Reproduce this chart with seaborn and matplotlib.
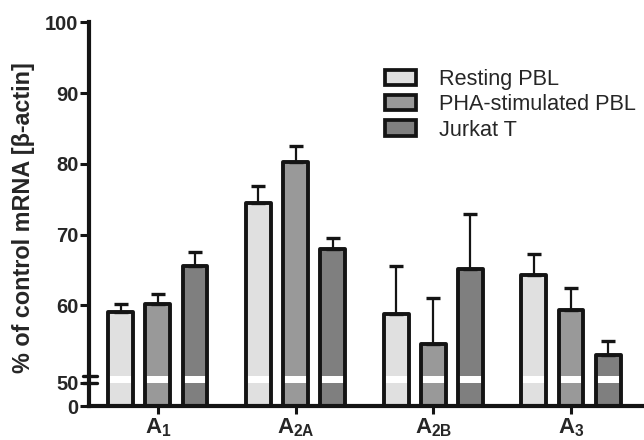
import numpy as np
import pandas as pd
import matplotlib
matplotlib.use("Agg")
import matplotlib.pyplot as plt
import matplotlib.transforms as mtransforms
from matplotlib.patches import Patch, Rectangle
import seaborn as sns

# ---------------- data ----------------
receptors = ["A1", "A2A", "A2B", "A3"]
tick_labels = ["A$_1$", "A$_{2A}$", "A$_{2B}$", "A$_3$"]
cell_types = ["Resting PBL", "PHA-stimulated PBL", "Jurkat T"]
resting = [59.05, 74.4, 58.8, 64.3]
resting_sem = [1.1, 2.4, 6.8, 2.9]
pha = [60.2, 80.2, 54.6, 59.4]
pha_sem = [1.4, 2.35, 6.4, 3.1]
jurkat = [65.6, 68.0, 65.2, 53.0]
jurkat_sem = [1.9, 1.45, 7.7, 2.0]
yticks = [0, 50, 60, 70, 80, 90, 100]
ylabel = "% of control mRNA [β-actin]"
colors = ["#e0e0e0", "#999999", "#7f7f7f"]

values = [resting, pha, jurkat]
sems = [resting_sem, pha_sem, jurkat_sem]
df = pd.DataFrame({
    "receptor": [r for _ in cell_types for r in receptors],
    "cell": [c for c in cell_types for _ in receptors],
    "value": [v for vals in values for v in vals],
})

# ---------------- style ----------------
sns.set_style("white")
plt.rcParams["font.family"] = ["Liberation Sans", "DejaVu Sans"]
plt.rcParams["mathtext.fontset"] = "custom"
plt.rcParams["mathtext.rm"] = "Liberation Sans:bold"
plt.rcParams["mathtext.it"] = "Liberation Sans:bold"
plt.rcParams["mathtext.bf"] = "Liberation Sans:bold"

EDGE = "#141414"
W, H = 644, 440
fig = plt.figure(figsize=(W / 100, H / 100), dpi=100)
ax = fig.add_axes([89 / W, 1 - 406 / H, 555 / W, 383.7 / H])

# broken y scale: 0-50 compressed, small gap, 50-100 expanded
LOW, GAP, HI, EPS = 23 / 50, 7.0, 7.07, 0.01


def fwd(y):
    y = np.asarray(y, dtype=float)
    return np.where(y <= 50, y * LOW,
                    np.where(y <= 50 + EPS, 23 + (y - 50) / EPS * GAP,
                             30 + (y - 50 - EPS) * HI))


def inv(s):
    s = np.asarray(s, dtype=float)
    return np.where(s <= 23, s / LOW,
                    np.where(s <= 30, 50 + (s - 23) / GAP * EPS,
                             50 + EPS + (s - 30) / HI))


sns.barplot(data=df, x="receptor", y="value", hue="cell", order=receptors,
            hue_order=cell_types, palette=colors, width=0.81, gap=0.33,
            errorbar=None, linewidth=0, ax=ax, legend=False, zorder=1)

ax.set_yscale("function", functions=(fwd, inv))
ax.set_ylim(0, 100)
ax.set_xlim(-0.5, 3.53)

bars = list(ax.patches)
# white break band across the bar fills
ax.axhspan(50, 50 + EPS, facecolor="white", edgecolor="none", zorder=1.5)

# outlines and one-sided error bars
for k, p in enumerate(bars):
    i, j = divmod(k, len(receptors))
    ax.add_patch(Rectangle((p.get_x(), p.get_y()), p.get_width(), p.get_height(),
                           fill=False, edgecolor=EDGE, linewidth=2.8,
                           joinstyle="round", zorder=3))
    xc = p.get_x() + p.get_width() / 2
    ax.errorbar([xc], [p.get_height()], yerr=[[0], [sems[i][j]]], fmt="none",
                ecolor=EDGE, elinewidth=1.6, capsize=5, capthick=2.4, zorder=2.8)

# axes styling
for side in ["top", "right"]:
    ax.spines[side].set_visible(False)
for side in ["left", "bottom"]:
    ax.spines[side].set_linewidth(3.0)
    ax.spines[side].set_color(EDGE)

ax.set_yticks(yticks)
ax.set_yticklabels([str(t) for t in yticks], fontsize=14.5, fontweight="bold")
ax.yaxis.set_minor_locator(matplotlib.ticker.NullLocator())
ax.set_xticks(range(len(receptors)))
ax.set_xticklabels(tick_labels, fontsize=16, fontweight="bold")
ax.tick_params(axis="y", length=6.5, width=2.2, pad=1, color=EDGE, direction="out", left=True)
ax.tick_params(axis="x", length=6, width=2.2, pad=1.5, color=EDGE, direction="out", bottom=True)
ax.set_xlabel("")
ax.set_ylabel(ylabel, fontsize=16.8, fontweight="bold")
ax.yaxis.set_label_coords(-0.097, 0.491)

# break marks on the y axis
trans = mtransforms.blended_transform_factory(ax.transAxes, ax.transData)
for yb in (50, 50 + EPS):
    ax.plot([-0.011, 0.014], [yb, yb], transform=trans, color=EDGE, lw=2.4,
            clip_on=False, solid_capstyle="round", zorder=4)

handles = [Patch(facecolor=c, edgecolor=EDGE, linewidth=2.7, joinstyle="round")
           for c in colors]
ax.legend(handles, cell_types, loc="upper left", bbox_to_anchor=(385 / W, 1 - 69 / H),
          bbox_transform=fig.transFigure, frameon=False, fontsize=15.6,
          handlelength=1.45, handleheight=0.72, handletextpad=1.05,
          labelspacing=0.2, borderpad=0, borderaxespad=0)

fig.savefig("out.png", dpi=100)
